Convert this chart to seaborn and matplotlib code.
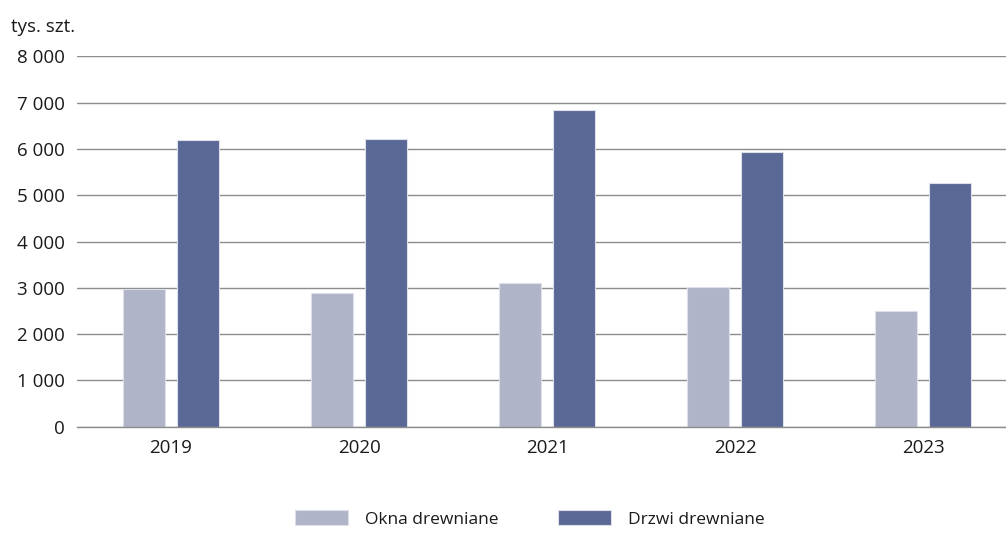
import pandas as pd
import matplotlib.pyplot as plt
import seaborn as sns

# Dane (tys. szt.)
lata = ['2019', '2020', '2021', '2022', '2023']
okna = [2965, 2880, 3095, 3015, 2505]
drzwi = [6200, 6215, 6845, 5940, 5260]
serie = ['Okna drewniane', 'Drzwi drewniane']
kolory = ['#afb4c8', '#5a6896']
yticks = [0, 1000, 2000, 3000, 4000, 5000, 6000, 7000, 8000]

sns.set_style("white")
plt.rcParams['font.family'] = ['Open Sans', 'DejaVu Sans']
plt.rcParams['text.color'] = '#1a1a1a'
plt.rcParams['xtick.color'] = '#1a1a1a'
plt.rcParams['ytick.color'] = '#1a1a1a'

df = pd.DataFrame({
    'rok': lata * 2,
    'wartosc': okna + drzwi,
    'seria': [serie[0]] * len(lata) + [serie[1]] * len(lata),
})

fig = plt.figure(figsize=(10.06, 5.34), dpi=100)
ax = fig.add_axes([0.0765, 0.2013, 0.9235, 0.6929])

sns.barplot(data=df, x='rok', y='wartosc', hue='seria', hue_order=serie,
            palette=kolory, saturation=1, width=0.572, gap=0.22, errorbar=None,
            edgecolor='#dde0ea', linewidth=0.8, ax=ax, zorder=3)

ax.set_ylim(0, 8000)
ax.set_xlim(-0.5, 4.44)
ax.set_yticks(yticks)
ax.set_yticklabels([f'{v:,}'.replace(',', ' ') for v in yticks])
ax.yaxis.grid(True, color='#8c8c8c', linewidth=1.0)
ax.set_axisbelow(True)
for s in ax.spines.values():
    s.set_visible(False)
# linia zerowa (os X)
ax.spines['bottom'].set_visible(True)
ax.spines['bottom'].set_color('#8c8c8c')
ax.spines['bottom'].set_linewidth(1.0)
ax.spines['bottom'].set_zorder(4)
ax.tick_params(axis='y', length=0, pad=9, labelsize=13.5)
ax.tick_params(axis='x', length=0, pad=9, labelsize=13.5)
ax.set_xlabel('')
ax.set_ylabel('')

fig.text(11 / 1006, 1 - 27 / 534, 'tys. szt.', fontsize=13.5, ha='left', va='center')

handles, labels = ax.get_legend_handles_labels()
ax.get_legend().remove()
fig.legend(handles, labels, loc='center', bbox_to_anchor=(530 / 1006, 1 - 519 / 534),
           ncol=2, frameon=False, fontsize=12.5, handlelength=3.05, handleheight=0.97,
           handletextpad=1.0, columnspacing=3.4)

plt.savefig('out.png', dpi=100)
